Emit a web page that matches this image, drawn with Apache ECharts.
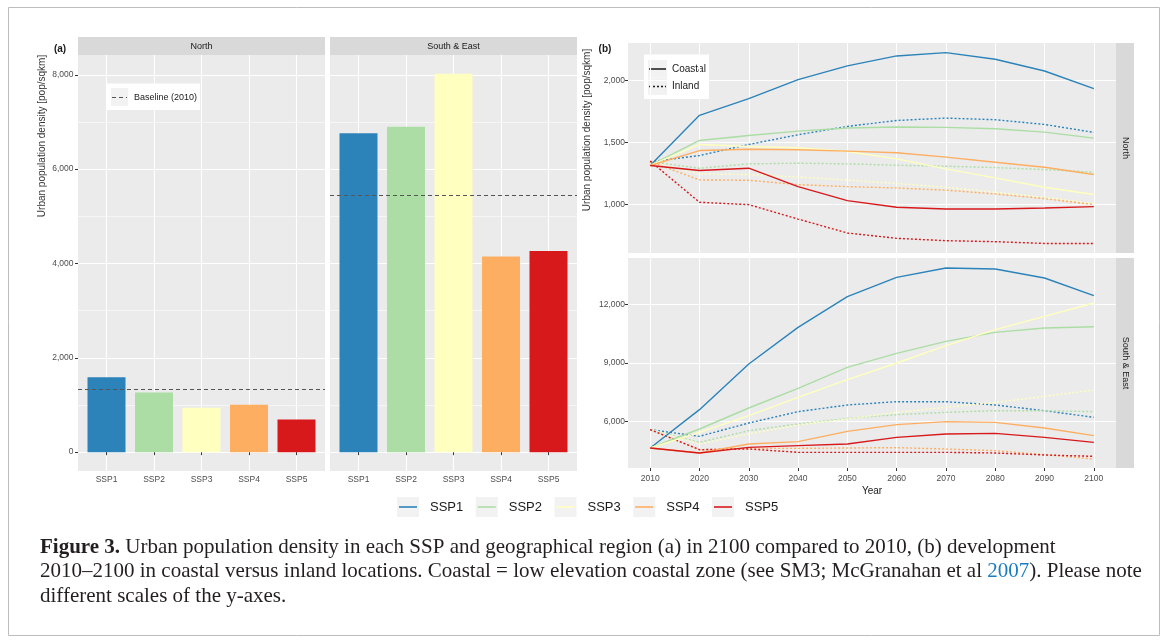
<!DOCTYPE html>
<html><head><meta charset="utf-8">
<script src="https://cdn.jsdelivr.net/npm/echarts@6/dist/echarts.min.js"></script>
<style>html,body{margin:0;padding:0;background:#fff;}#c{width:1167px;height:641px;}</style>
</head><body><div id="c"></div>
<script>
// ---------- data ----------
const ssps = ['SSP1', 'SSP2', 'SSP3', 'SSP4', 'SSP5'];
const sspColors = ['#2B83BA', '#ABDDA4', '#FFFFBF', '#FDAE61', '#D7191C'];
const regions = ['North', 'South & East'];

// panel (a): density in 2100 and baseline 2010
const bar2100North = [1590, 1266, 940, 1003, 693];
const bar2100South = [6760, 6900, 8020, 4150, 4263];
const baseline2010North = 1343;
const baseline2010South = 5450;
const barTicks = [0, 2000, 4000, 6000, 8000];
const barMinorTicks = [1000, 3000, 5000, 7000];

// panel (b): development 2010-2100
const years = [2010, 2020, 2030, 2040, 2050, 2060, 2070, 2080, 2090, 2100];
const northTicks = [1000, 1500, 2000];
const southTicks = [6000, 9000, 12000];

const northCoastalSSP1 = [1315, 1718, 1852, 2005, 2116, 2196, 2223, 2169, 2075, 1933];
const northCoastalSSP2 = [1315, 1516, 1556, 1591, 1616, 1624, 1621, 1610, 1583, 1535];
const northCoastalSSP3 = [1315, 1484, 1468, 1457, 1427, 1368, 1288, 1215, 1140, 1081];
const northCoastalSSP4 = [1315, 1435, 1446, 1441, 1430, 1417, 1382, 1341, 1301, 1242];
const northCoastalSSP5 = [1315, 1274, 1293, 1145, 1032, 979, 965, 965, 973, 984];
const northInlandSSP1 = [1345, 1395, 1484, 1562, 1629, 1677, 1696, 1683, 1645, 1581];
const northInlandSSP2 = [1345, 1293, 1328, 1333, 1328, 1317, 1309, 1298, 1282, 1261];
const northInlandSSP3 = [1345, 1247, 1242, 1222, 1198, 1170, 1140, 1100, 1058, 1010];
const northInlandSSP4 = [1345, 1199, 1196, 1161, 1145, 1134, 1116, 1086, 1048, 1000];
const northInlandSSP5 = [1350, 1019, 1000, 884, 772, 729, 710, 702, 688, 688];

const southCoastalSSP1 = [4629, 6600, 8948, 10834, 12410, 13405, 13884, 13833, 13370, 12462];
const southCoastalSSP2 = [4629, 5606, 6686, 7697, 8777, 9497, 10114, 10577, 10800, 10868];
const southCoastalSSP3 = [4629, 5434, 6291, 7234, 8143, 9000, 9891, 10714, 11400, 12086];
const southCoastalSSP4 = [4629, 4372, 4834, 4954, 5486, 5829, 5983, 5949, 5657, 5263];
const southCoastalSSP5 = [4629, 4372, 4663, 4749, 4834, 5177, 5349, 5383, 5177, 4920];
const southInlandSSP1 = [5571, 5229, 5914, 6497, 6840, 7011, 7011, 6840, 6548, 6206];
const southInlandSSP2 = [5571, 4920, 5520, 5863, 6154, 6343, 6463, 6548, 6548, 6497];
const southInlandSSP3 = [5571, 4834, 5349, 5811, 6120, 6463, 6720, 6977, 7286, 7611];
const southInlandSSP4 = [5571, 4526, 4611, 4611, 4629, 4646, 4577, 4491, 4286, 4063];
const southInlandSSP5 = [5571, 4543, 4577, 4406, 4406, 4406, 4406, 4372, 4269, 4200];

const northCoastal = [northCoastalSSP1, northCoastalSSP2, northCoastalSSP3, northCoastalSSP4, northCoastalSSP5];
const northInland = [northInlandSSP1, northInlandSSP2, northInlandSSP3, northInlandSSP4, northInlandSSP5];
const southCoastal = [southCoastalSSP1, southCoastalSSP2, southCoastalSSP3, southCoastalSSP4, southCoastalSSP5];
const southInland = [southInlandSSP1, southInlandSSP2, southInlandSSP3, southInlandSSP4, southInlandSSP5];

// ---------- helpers ----------
const SANS = '"Liberation Sans", Arial, sans-serif';
const fmt = v => String(Math.round(v)).replace(/\B(?=(\d{3})+(?!\d))/g, ',');
const GRID_W = '#FFFFFF';

function baseAxisCommon() {
  return { axisLine: { show: false }, splitLine: { show: true, lineStyle: { color: GRID_W, width: 1.1 } } };
}
function valAxis(o) {
  const a = Object.assign({ type: 'value', scale: false }, baseAxisCommon());
  return Object.assign(a, o);
}

const xAxes = [
  valAxis({ gridIndex: 0, min: 0.4, max: 5.6,
    axisTick: { show: true, length: 3, customValues: [1, 2, 3, 4, 5], lineStyle: { color: '#333' } },
    axisLabel: { customValues: [1, 2, 3, 4, 5], formatter: v => ssps[v - 1], fontSize: 8.5, color: '#4D4D4D', fontFamily: SANS, margin: 4 } }),
  valAxis({ gridIndex: 1, min: 0.4, max: 5.6,
    axisTick: { show: true, length: 3, customValues: [1, 2, 3, 4, 5], lineStyle: { color: '#333' } },
    axisLabel: { customValues: [1, 2, 3, 4, 5], formatter: v => ssps[v - 1], fontSize: 8.5, color: '#4D4D4D', fontFamily: SANS, margin: 4 } }),
  valAxis({ gridIndex: 2, min: 2005.5, max: 2104.5,
    axisTick: { show: false, customValues: years },
    axisLabel: { show: false, customValues: years } }),
  valAxis({ gridIndex: 3, min: 2005.5, max: 2104.5,
    axisTick: { show: true, length: 3, customValues: years, lineStyle: { color: '#333' } },
    axisLabel: { customValues: years, formatter: v => String(v), fontSize: 8.5, color: '#4D4D4D', fontFamily: SANS, margin: 6 },
    name: 'Year', nameLocation: 'middle', nameGap: 18,
    nameTextStyle: { fontSize: 10, color: '#1A1A1A', fontFamily: SANS } })
];

const yAxes = [
  valAxis({ gridIndex: 0, min: -400, max: 8420,
    axisTick: { show: true, length: 3, customValues: barTicks, lineStyle: { color: '#333' } },
    axisLabel: { customValues: barTicks, formatter: fmt, fontSize: 8.5, color: '#4D4D4D', fontFamily: SANS, margin: 4.5 } }),
  valAxis({ gridIndex: 0, min: -400, max: 8420, position: 'left',
    axisTick: { show: false, customValues: barMinorTicks }, axisLabel: { show: false, customValues: barMinorTicks },
    splitLine: { show: true, lineStyle: { color: GRID_W, width: 0.55 } } }),
  valAxis({ gridIndex: 1, min: -400, max: 8420,
    axisTick: { show: false, customValues: barTicks }, axisLabel: { show: false, customValues: barTicks } }),
  valAxis({ gridIndex: 1, min: -400, max: 8420, position: 'left',
    axisTick: { show: false, customValues: barMinorTicks }, axisLabel: { show: false, customValues: barMinorTicks },
    splitLine: { show: true, lineStyle: { color: GRID_W, width: 0.55 } } }),
  valAxis({ gridIndex: 2, min: 611, max: 2300,
    axisTick: { show: true, length: 3, customValues: northTicks, lineStyle: { color: '#333' } },
    axisLabel: { customValues: northTicks, formatter: fmt, fontSize: 8.5, color: '#4D4D4D', fontFamily: SANS, margin: 3 } }),
  valAxis({ gridIndex: 3, min: 3600, max: 14400,
    axisTick: { show: true, length: 3, customValues: southTicks, lineStyle: { color: '#333' } },
    axisLabel: { customValues: southTicks, formatter: fmt, fontSize: 8.5, color: '#4D4D4D', fontFamily: SANS, margin: 3 } })
];

function barSeries(xi, yi, vals, baseline) {
  return {
    type: 'bar', xAxisIndex: xi, yAxisIndex: yi, barWidth: '80%',
    data: vals.map((v, i) => ({ value: [i + 1, v], itemStyle: { color: sspColors[i] } })),
    markLine: {
      silent: true, symbol: ['none', 'none'], label: { show: false },
      lineStyle: { type: [4, 3], color: '#555555', width: 1 },
      emphasis: { disabled: true },
      data: [{ yAxis: baseline }]
    },
    emphasis: { disabled: true }
  };
}

const series = [barSeries(0, 0, bar2100North, baseline2010North), barSeries(1, 2, bar2100South, baseline2010South)];

function addLines(xi, yi, coastal, inland) {
  for (let i = 0; i < ssps.length; i++) {
    series.push({ type: 'line', name: ssps[i], xAxisIndex: xi, yAxisIndex: yi, symbol: 'none', silent: true,
      data: years.map((y, k) => [y, inland[i][k]]),
      lineStyle: { color: sspColors[i], width: 1.4, type: [2, 2] }, z: 3 });
  }
  for (let i = 0; i < ssps.length; i++) {
    series.push({ type: 'line', name: ssps[i], xAxisIndex: xi, yAxisIndex: yi, symbol: 'none', silent: true,
      data: years.map((y, k) => [y, coastal[i][k]]),
      lineStyle: { color: sspColors[i], width: 1.4 }, z: 4 });
  }
}
addLines(2, 4, northCoastal, northInland);
addLines(3, 5, southCoastal, southInland);

// ---------- decorations (strips, titles, legends, caption) ----------
const graphics = [];
graphics.push({ type: 'rect', shape: { x: 8.5, y: 7.5, width: 1151, height: 628 }, style: { fill: 'none', stroke: '#BDBDBD', lineWidth: 1 }, silent: true });
// top strips panel (a)
[[78, 247, regions[0]], [330, 247, regions[1]]].forEach(([x, w, t]) => {
  graphics.push({ type: 'rect', shape: { x: x, y: 37, width: w, height: 18 }, style: { fill: '#D9D9D9' }, silent: true });
  graphics.push({ type: 'text', x: x + w / 2, y: 46.5, style: { text: t, fontSize: 9, fontFamily: SANS, fill: '#1A1A1A', align: 'center', verticalAlign: 'middle' }, silent: true });
});
// right strips panel (b)
[[43, 210, regions[0]], [258, 210, regions[1]]].forEach(([y, h, t]) => {
  graphics.push({ type: 'rect', shape: { x: 1116, y: y, width: 18, height: h }, style: { fill: '#D9D9D9' }, silent: true });
  graphics.push({ type: 'text', x: 1125, y: y + h / 2, rotation: -Math.PI / 2, style: { text: t, fontSize: 9, fontFamily: SANS, fill: '#1A1A1A', align: 'center', verticalAlign: 'middle' }, silent: true });
});
// y titles
[[42, 136], [587, 130]].forEach(([x, y]) => {
  graphics.push({ type: 'text', x: x, y: y, rotation: Math.PI / 2, style: { text: 'Urban population density [pop/sqkm]', fontSize: 10, fontFamily: SANS, fill: '#333333', align: 'center', verticalAlign: 'middle' }, silent: true });
});
// panel tags
graphics.push({ type: 'text', x: 60, y: 49, style: { text: '(a)', fontSize: 10, fontWeight: 'bold', fontFamily: SANS, fill: '#1A1A1A', align: 'center', verticalAlign: 'middle' }, silent: true });
graphics.push({ type: 'text', x: 605, y: 49.5, style: { text: '(b)', fontSize: 10, fontWeight: 'bold', fontFamily: SANS, fill: '#1A1A1A', align: 'center', verticalAlign: 'middle' }, silent: true });
// baseline legend
graphics.push({ type: 'rect', shape: { x: 107, y: 83.5, width: 93, height: 26.5 }, style: { fill: '#FFFFFF' }, silent: true });
graphics.push({ type: 'rect', shape: { x: 111, y: 88, width: 17, height: 18 }, style: { fill: '#F2F2F2' }, silent: true });
graphics.push({ type: 'line', shape: { x1: 112, y1: 97.5, x2: 127, y2: 97.5 }, style: { stroke: '#555555', lineWidth: 1, lineDash: [4, 3] }, silent: true });
graphics.push({ type: 'text', x: 134, y: 97.5, style: { text: 'Baseline (2010)', fontSize: 9, fontFamily: SANS, fill: '#1A1A1A', verticalAlign: 'middle' }, silent: true });
// coastal / inland legend
graphics.push({ type: 'rect', shape: { x: 644, y: 54.5, width: 65, height: 44.5 }, style: { fill: '#FFFFFF' }, silent: true });
graphics.push({ type: 'rect', shape: { x: 648, y: 60, width: 19, height: 17.5 }, style: { fill: '#F2F2F2' }, silent: true });
graphics.push({ type: 'rect', shape: { x: 648, y: 77.5, width: 19, height: 17.5 }, style: { fill: '#F2F2F2' }, silent: true });
graphics.push({ type: 'line', shape: { x1: 649, y1: 69, x2: 666, y2: 69 }, style: { stroke: '#1A1A1A', lineWidth: 1.5 }, silent: true });
graphics.push({ type: 'line', shape: { x1: 649, y1: 86.5, x2: 666, y2: 86.5 }, style: { stroke: '#1A1A1A', lineWidth: 1.5, lineDash: [2, 2] }, silent: true });
graphics.push({ type: 'text', x: 672, y: 69, style: { text: 'Coastal', fontSize: 10, fontFamily: SANS, fill: '#1A1A1A', verticalAlign: 'middle' }, silent: true });
graphics.push({ type: 'text', x: 672, y: 86.5, style: { text: 'Inland', fontSize: 10, fontFamily: SANS, fill: '#1A1A1A', verticalAlign: 'middle' }, silent: true });
// bottom SSP legend
ssps.forEach((s, i) => {
  const x = 397 + i * 78.75;
  graphics.push({ type: 'rect', shape: { x: x, y: 497, width: 22, height: 20 }, style: { fill: '#F2F2F2' }, silent: true });
  graphics.push({ type: 'line', shape: { x1: x + 2, y1: 507, x2: x + 20, y2: 507 }, style: { stroke: sspColors[i], lineWidth: 1.6 }, silent: true });
  graphics.push({ type: 'text', x: x + 33, y: 507, style: { text: s, fontSize: 13, fontFamily: SANS, fill: '#1A1A1A', verticalAlign: 'middle' }, silent: true });
});
// caption
const SERIF = '"Liberation Serif", "DejaVu Serif", serif';
const CAP = 21;
const capRich = {
  b: { fontWeight: 'bold', fontSize: CAP, fontFamily: SERIF, fill: '#231F20', lineHeight: 24.5 },
  l: { fontSize: CAP, fontFamily: SERIF, fill: '#1C7CC2', lineHeight: 24.5 },
  n: { fontSize: CAP, fontFamily: SERIF, fill: '#231F20', lineHeight: 24.5 }
};
graphics.push({ type: 'text', x: 40, y: 535, style: {
  text: '{b|Figure 3.}{n| Urban population density in each SSP and geographical region (a) in 2100 compared to 2010, (b) development}\n' +
        '{n|2010–2100 in coastal versus inland locations. Coastal = low elevation coastal zone (see SM3; McGranahan et al }{l|2007}{n|). Please note}\n' +
        '{n|different scales of the y-axes.}',
  rich: capRich, fontSize: CAP, fontFamily: SERIF, fill: '#231F20', lineHeight: 24.5, verticalAlign: 'top' }, silent: true });

const option = {
  animation: false,
  backgroundColor: '#FFFFFF',
  grid: [
    { left: 78, top: 55, width: 247, height: 416, show: true, backgroundColor: '#EBEBEB', borderWidth: 0, containLabel: false },
    { left: 330, top: 55, width: 247, height: 416, show: true, backgroundColor: '#EBEBEB', borderWidth: 0, containLabel: false },
    { left: 628, top: 43, width: 488, height: 210, show: true, backgroundColor: '#EBEBEB', borderWidth: 0, containLabel: false },
    { left: 628, top: 258, width: 488, height: 210, show: true, backgroundColor: '#EBEBEB', borderWidth: 0, containLabel: false }
  ],
  xAxis: xAxes,
  yAxis: yAxes,
  series: series,
  graphic: { elements: graphics }
};

const chart = echarts.init(document.getElementById('c'), null, { renderer: 'canvas' });
chart.setOption(option);
</script></body></html>
